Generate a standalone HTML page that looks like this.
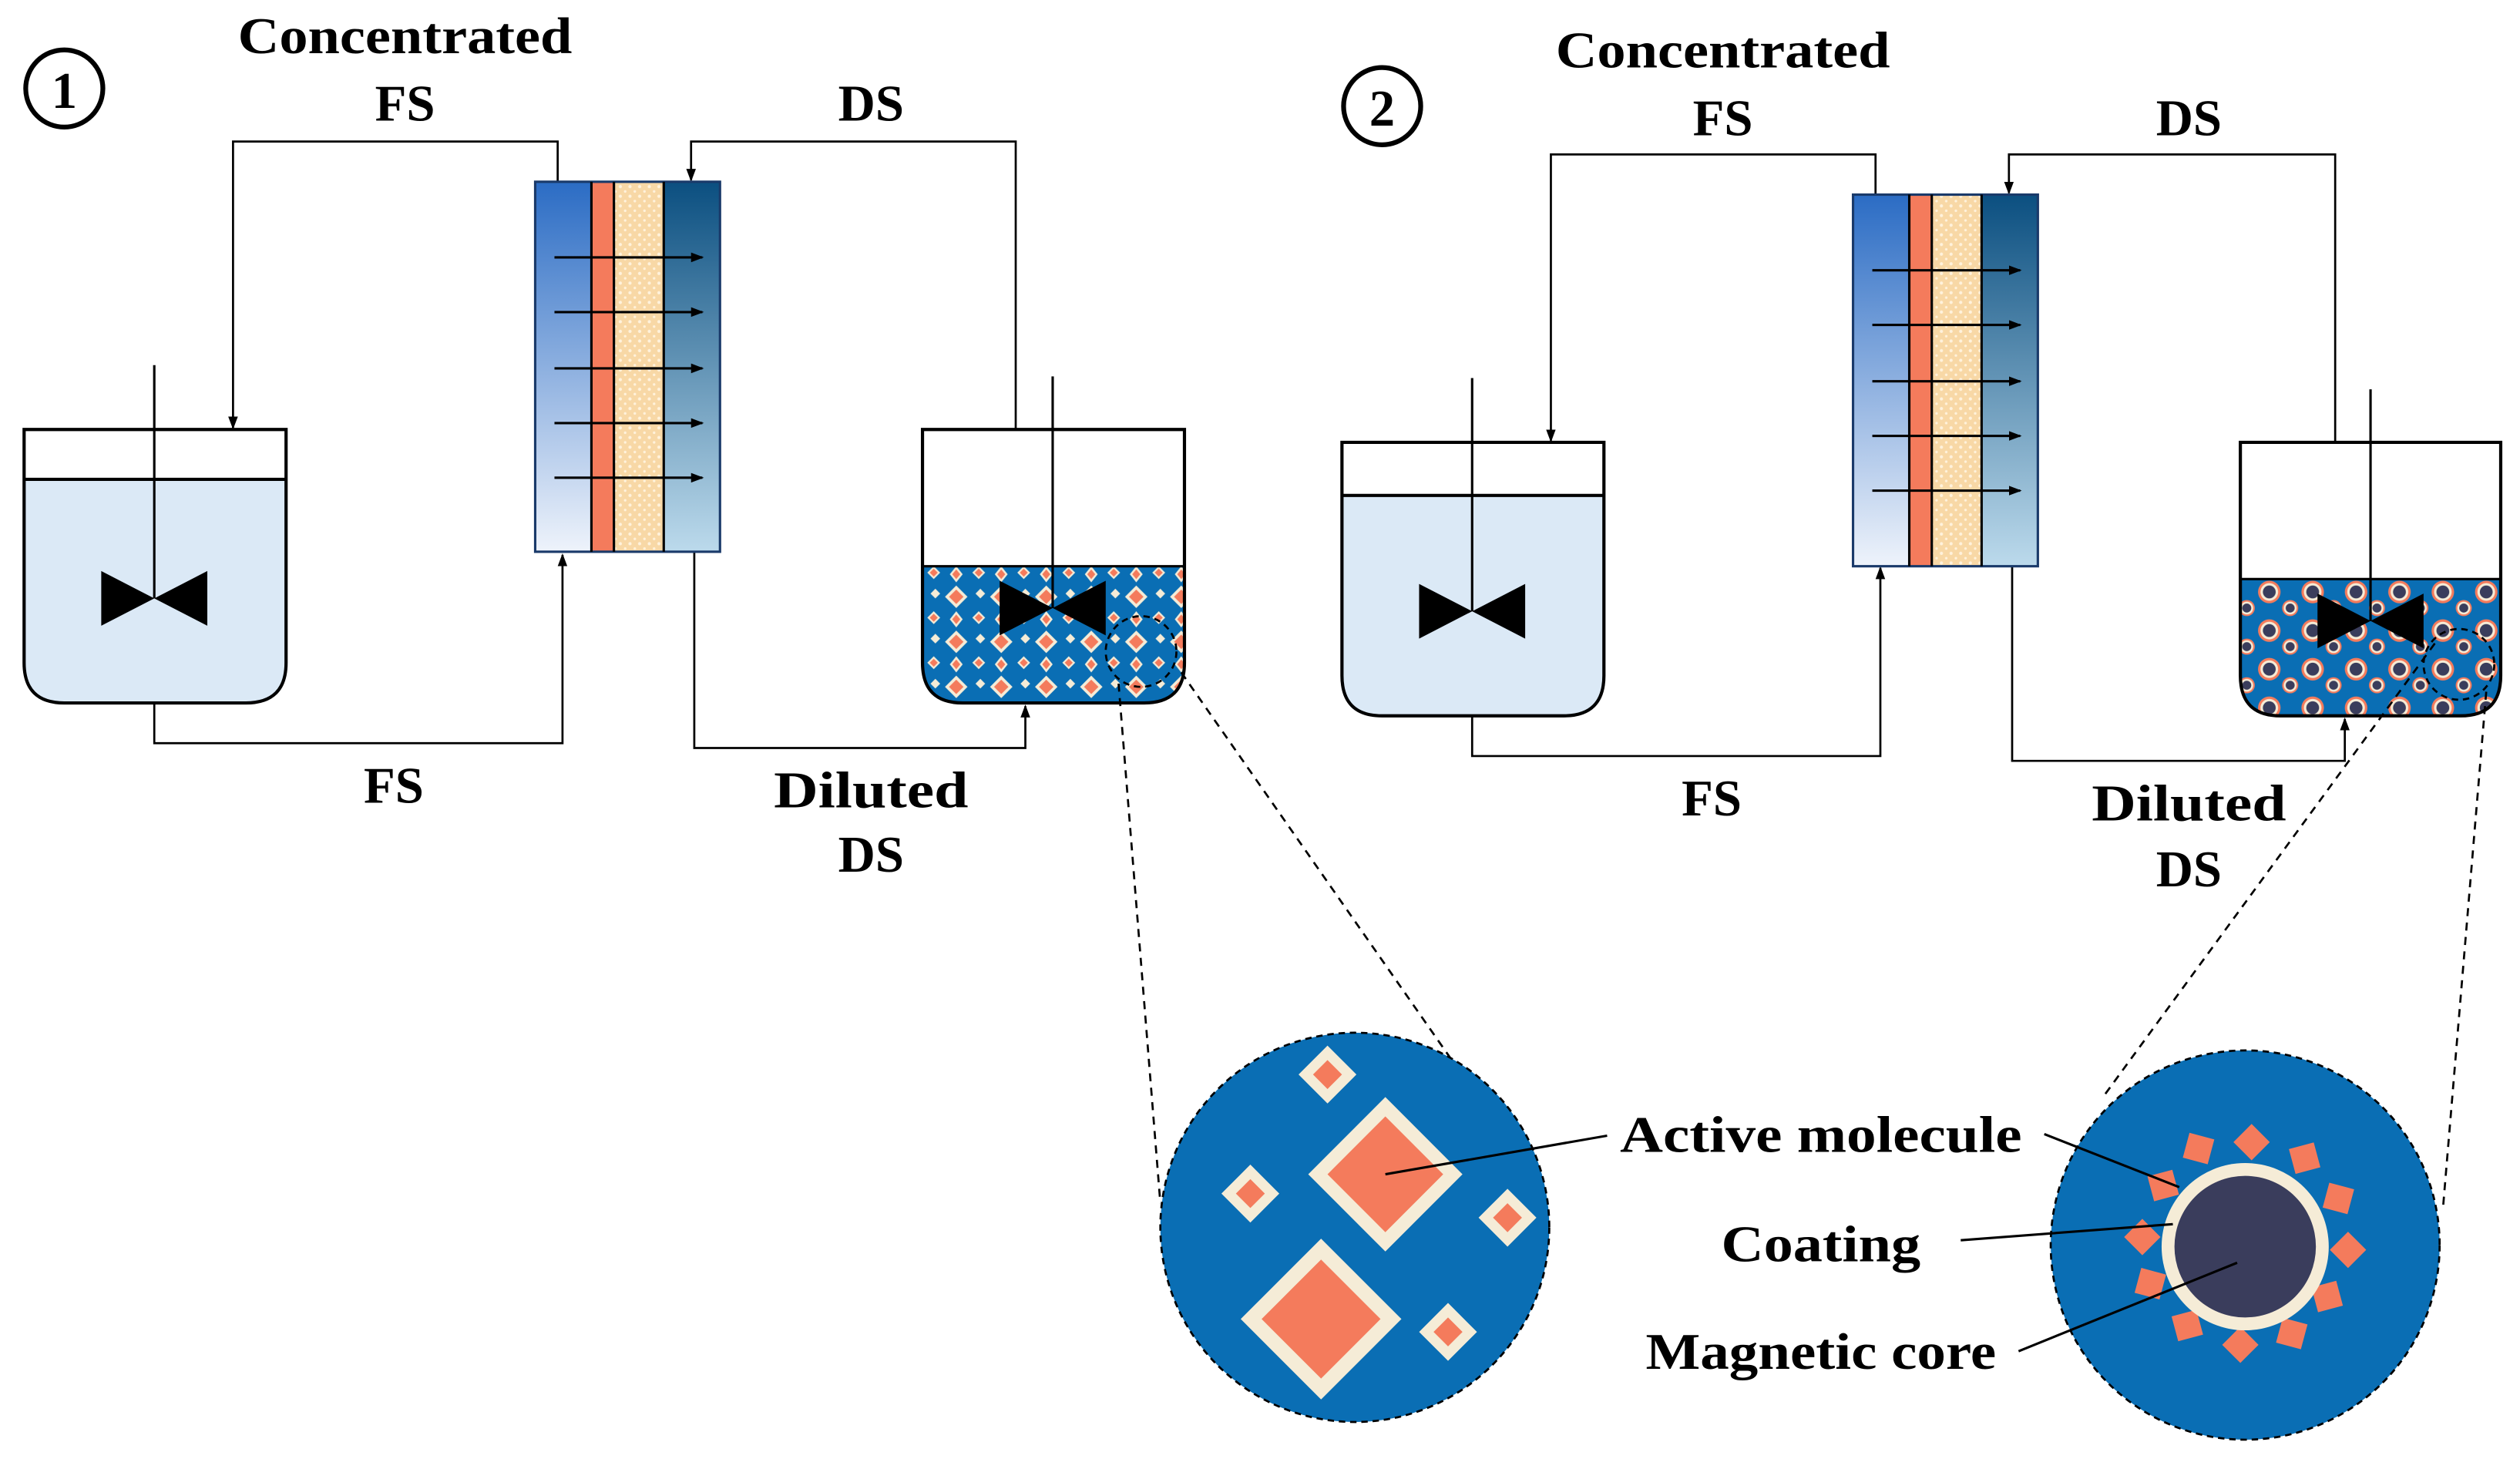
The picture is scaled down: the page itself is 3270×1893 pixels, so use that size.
<!DOCTYPE html>
<html><head><meta charset="utf-8"><style>
html,body{margin:0;padding:0;background:#fff;}
svg{display:block;}
text{font-family:"Liberation Serif",serif;font-weight:bold;fill:#000;}
</style></head><body>
<svg width="3270" height="1893" viewBox="0 0 1568 907" preserveAspectRatio="none" xmlns="http://www.w3.org/2000/svg">
<defs>
<linearGradient id="gL" x1="0" y1="0" x2="0" y2="1"><stop offset="0" stop-color="#2b6cc4"/><stop offset="1" stop-color="#eef3fb"/></linearGradient>
<linearGradient id="gR" x1="0" y1="0" x2="0" y2="1"><stop offset="0" stop-color="#0b4f80"/><stop offset="1" stop-color="#bcdaec"/></linearGradient>
<pattern id="dots" width="6" height="6" patternUnits="userSpaceOnUse"><rect width="6" height="6" fill="#f8d8a6"/><circle cx="2" cy="2" r="1" fill="#fff2dc"/><circle cx="5" cy="5" r="0.8" fill="#fff2dc"/></pattern>
<pattern id="dia" width="28" height="28" patternUnits="userSpaceOnUse">
<rect width="28" height="28" fill="#0a6eb4"/>
<path d="M7,0 L14,7 L7,14 L0,7Z" fill="#f5ecd7"/><path d="M7,2.5 L11.5,7 L7,11.5 L2.5,7Z" fill="#f47b5c"/>
<path d="M21,16 L25,20 L21,24 L17,20Z" fill="#f5ecd7"/><path d="M21,17.5 L23.5,20 L21,22.5 L18.5,20Z" fill="#f47b5c"/>
<path d="M22,2 L25,5 L22,8 L19,5Z" fill="#f5ecd7"/>
<path d="M7,16 L11,21 L7,26 L3,21Z" fill="#f5ecd7"/><path d="M7,18 L9.5,21 L7,24 L4.5,21Z" fill="#f47b5c"/>
</pattern>
<pattern id="mag" width="27" height="24" patternUnits="userSpaceOnUse">
<rect width="27" height="24" fill="#0a6eb4"/>
<circle cx="8" cy="8" r="7" fill="#f47b5c"/><circle cx="8" cy="8" r="5.5" fill="#f5ecd7"/><circle cx="8" cy="8" r="4" fill="#3a3d5c"/>
<circle cx="21" cy="18" r="5" fill="#f47b5c"/><circle cx="21" cy="18" r="4" fill="#f5ecd7"/><circle cx="21" cy="18" r="2.8" fill="#3a3d5c"/>
</pattern>
<marker id="ar" markerWidth="8" markerHeight="8" refX="7" refY="4" orient="auto" markerUnits="userSpaceOnUse"><path d="M0,1 L8,4 L0,7Z" fill="#000"/></marker>
</defs>

<g id="p1">
<circle cx="40" cy="55" r="24" fill="none" stroke="#000" stroke-width="3"/>
<text x="40" y="67" font-size="32" text-anchor="middle">1</text>
<text x="252" y="33" font-size="32" text-anchor="middle" textLength="208" lengthAdjust="spacingAndGlyphs">Concentrated</text>
<text x="252" y="75" font-size="32" text-anchor="middle">FS</text>
<text x="542" y="75" font-size="32" text-anchor="middle">DS</text>
<text x="245" y="499" font-size="32" text-anchor="middle">FS</text>
<text x="542" y="502" font-size="32" text-anchor="middle" textLength="121" lengthAdjust="spacingAndGlyphs">Diluted</text>
<text x="542" y="542" font-size="32" text-anchor="middle">DS</text>

<g fill="none" stroke="#000" stroke-width="1.3">
<polyline points="347,113 347,88 145,88 145,266" marker-end="url(#ar)"/>
<polyline points="632,267 632,88 430,88 430,112" marker-end="url(#ar)"/>
<polyline points="96,437 96,462 350,462 350,345" marker-end="url(#ar)"/>
<polyline points="432,343 432,465 638,465 638,439" marker-end="url(#ar)"/>
</g>

<path d="M15,298 H178 V412 Q178,437 153,437 H40 Q15,437 15,412Z" fill="#dbe9f6"/>
<path d="M15,267 H178 V412 Q178,437 153,437 H40 Q15,437 15,412Z" fill="none" stroke="#000" stroke-width="2"/>
<line x1="15" y1="298" x2="178" y2="298" stroke="#000" stroke-width="2"/>
<line x1="96" y1="227" x2="96" y2="372" stroke="#000" stroke-width="1.5"/>
<path d="M63,355 L129,389 L129,355 L63,389Z" fill="#000"/>

<rect x="333" y="113" width="35" height="230" fill="url(#gL)"/>
<rect x="368" y="113" width="14" height="230" fill="#f47b5c"/>
<rect x="382" y="113" width="31" height="230" fill="url(#dots)"/>
<rect x="413" y="113" width="35" height="230" fill="url(#gR)"/>
<rect x="333" y="113" width="115" height="230" fill="none" stroke="#1a3a6a" stroke-width="1.5"/>
<line x1="368" y1="113" x2="368" y2="343" stroke="#000" stroke-width="1.5"/>
<line x1="382" y1="113" x2="382" y2="343" stroke="#000" stroke-width="1.5"/>
<line x1="413" y1="113" x2="413" y2="343" stroke="#000" stroke-width="1.5"/>
<g stroke="#000" stroke-width="1.5" marker-end="url(#ar)">
<line x1="345" y1="160" x2="437" y2="160"/><line x1="345" y1="194" x2="437" y2="194"/>
<line x1="345" y1="229" x2="437" y2="229"/><line x1="345" y1="263" x2="437" y2="263"/>
<line x1="345" y1="297" x2="437" y2="297"/>
</g>

<path d="M574,352 H737 V412 Q737,437 712,437 H599 Q574,437 574,412Z" fill="url(#dia)"/>
<path d="M574,267 H737 V412 Q737,437 712,437 H599 Q574,437 574,412Z" fill="none" stroke="#000" stroke-width="2"/>
<line x1="574" y1="352" x2="737" y2="352" stroke="#000" stroke-width="1.5"/>
<line x1="655" y1="234" x2="655" y2="378" stroke="#000" stroke-width="1.5"/>
<path d="M622,361 L688,395 L688,361 L622,395Z" fill="#000"/>
<circle cx="710" cy="405" r="22" fill="none" stroke="#000" stroke-width="1.3" stroke-dasharray="4,3"/>

<g stroke="#000" stroke-width="1.3" stroke-dasharray="5,4" fill="none">
<line x1="696" y1="425" x2="722" y2="748"/>
<line x1="735" y1="418" x2="918" y2="680"/>
</g>
<circle cx="843" cy="763" r="121" fill="#0a6eb4" stroke="#000" stroke-width="1.3" stroke-dasharray="4,3"/>
<g>
<path d="M862,682 L910,730 L862,778 L814,730Z" fill="#f5ecd7"/><path d="M862,694 L898,730 L862,766 L826,730Z" fill="#f47b5c"/>
<path d="M822,770 L872,820 L822,870 L772,820Z" fill="#f5ecd7"/><path d="M822,783 L859,820 L822,857 L785,820Z" fill="#f47b5c"/>
<path d="M826,650 L844,668 L826,686 L808,668Z" fill="#f5ecd7"/><path d="M826,659 L835,668 L826,677 L817,668Z" fill="#f47b5c"/>
<path d="M778,724 L796,742 L778,760 L760,742Z" fill="#f5ecd7"/><path d="M778,733 L787,742 L778,751 L769,742Z" fill="#f47b5c"/>
<path d="M938,739 L956,757 L938,775 L920,757Z" fill="#f5ecd7"/><path d="M938,748 L947,757 L938,766 L929,757Z" fill="#f47b5c"/>
<path d="M901,810 L919,828 L901,846 L883,828Z" fill="#f5ecd7"/><path d="M901,819 L910,828 L901,837 L892,828Z" fill="#f47b5c"/>
</g>
<line x1="862" y1="730" x2="1000" y2="706" stroke="#000" stroke-width="1.5"/>
</g>

<circle cx="860" cy="66" r="24" fill="none" stroke="#000" stroke-width="3"/>
<text x="860" y="78" font-size="32" text-anchor="middle">2</text>
<text x="1072" y="42" font-size="32" text-anchor="middle" textLength="208" lengthAdjust="spacingAndGlyphs">Concentrated</text>
<text x="1072" y="84" font-size="32" text-anchor="middle">FS</text>
<text x="1362" y="84" font-size="32" text-anchor="middle">DS</text>
<text x="1065" y="507" font-size="32" text-anchor="middle">FS</text>
<text x="1362" y="510" font-size="32" text-anchor="middle" textLength="121" lengthAdjust="spacingAndGlyphs">Diluted</text>
<text x="1362" y="551" font-size="32" text-anchor="middle">DS</text>

<g fill="none" stroke="#000" stroke-width="1.3">
<polyline points="1167,121 1167,96 965,96 965,274" marker-end="url(#ar)"/>
<polyline points="1453,275 1453,96 1250,96 1250,120" marker-end="url(#ar)"/>
<polyline points="916,445 916,470 1170,470 1170,353" marker-end="url(#ar)"/>
<polyline points="1252,352 1252,473 1459,473 1459,447" marker-end="url(#ar)"/>
</g>

<path d="M835,308 H998 V420 Q998,445 973,445 H860 Q835,445 835,420Z" fill="#dbe9f6"/>
<path d="M835,275 H998 V420 Q998,445 973,445 H860 Q835,445 835,420Z" fill="none" stroke="#000" stroke-width="2"/>
<line x1="835" y1="308" x2="998" y2="308" stroke="#000" stroke-width="2"/>
<line x1="916" y1="235" x2="916" y2="380" stroke="#000" stroke-width="1.5"/>
<path d="M883,363 L949,397 L949,363 L883,397Z" fill="#000"/>

<rect x="1153" y="121" width="35" height="231" fill="url(#gL)"/>
<rect x="1188" y="121" width="14" height="231" fill="#f47b5c"/>
<rect x="1202" y="121" width="31" height="231" fill="url(#dots)"/>
<rect x="1233" y="121" width="35" height="231" fill="url(#gR)"/>
<rect x="1153" y="121" width="115" height="231" fill="none" stroke="#1a3a6a" stroke-width="1.5"/>
<line x1="1188" y1="121" x2="1188" y2="352" stroke="#000" stroke-width="1.5"/>
<line x1="1202" y1="121" x2="1202" y2="352" stroke="#000" stroke-width="1.5"/>
<line x1="1233" y1="121" x2="1233" y2="352" stroke="#000" stroke-width="1.5"/>
<g stroke="#000" stroke-width="1.5" marker-end="url(#ar)">
<line x1="1165" y1="168" x2="1257" y2="168"/><line x1="1165" y1="202" x2="1257" y2="202"/>
<line x1="1165" y1="237" x2="1257" y2="237"/><line x1="1165" y1="271" x2="1257" y2="271"/>
<line x1="1165" y1="305" x2="1257" y2="305"/>
</g>

<path d="M1394,360 H1556 V420 Q1556,445 1531,445 H1419 Q1394,445 1394,420Z" fill="url(#mag)"/>
<path d="M1394,275 H1556 V420 Q1556,445 1531,445 H1419 Q1394,445 1394,420Z" fill="none" stroke="#000" stroke-width="2"/>
<line x1="1394" y1="360" x2="1556" y2="360" stroke="#000" stroke-width="1.5"/>
<line x1="1475" y1="242" x2="1475" y2="386" stroke="#000" stroke-width="1.5"/>
<path d="M1442,369 L1508,403 L1508,369 L1442,403Z" fill="#000"/>
<circle cx="1530" cy="413" r="22" fill="none" stroke="#000" stroke-width="1.3" stroke-dasharray="4,3"/>

<g stroke="#000" stroke-width="1.3" stroke-dasharray="5,4" fill="none">
<line x1="1515" y1="400" x2="1310" y2="680"/>
<line x1="1547" y1="430" x2="1520" y2="752"/>
</g>
<circle cx="1397" cy="774" r="121" fill="#0a6eb4" stroke="#000" stroke-width="1.3" stroke-dasharray="4,3"/>
<g fill="#f47b5c">
<rect x="-8" y="-8" width="16" height="16" transform="translate(1401,710) rotate(45)"/>
<rect x="-8" y="-8" width="16" height="16" transform="translate(1368,714) rotate(15)"/>
<rect x="-8" y="-8" width="16" height="16" transform="translate(1434,720) rotate(-15)"/>
<rect x="-8" y="-8" width="16" height="16" transform="translate(1346,737) rotate(-15)"/>
<rect x="-8" y="-8" width="16" height="16" transform="translate(1455,745) rotate(15)"/>
<rect x="-8" y="-8" width="16" height="16" transform="translate(1333,769) rotate(45)"/>
<rect x="-8" y="-8" width="16" height="16" transform="translate(1461,777) rotate(45)"/>
<rect x="-8" y="-8" width="16" height="16" transform="translate(1338,798) rotate(15)"/>
<rect x="-8" y="-8" width="16" height="16" transform="translate(1448,806) rotate(-15)"/>
<rect x="-8" y="-8" width="16" height="16" transform="translate(1361,824) rotate(-15)"/>
<rect x="-8" y="-8" width="16" height="16" transform="translate(1426,829) rotate(15)"/>
<rect x="-8" y="-8" width="16" height="16" transform="translate(1394,836) rotate(45)"/>
</g>
<circle cx="1397" cy="775" r="52" fill="#f5ecd7"/>
<circle cx="1397" cy="775" r="44" fill="#3a3d5c"/>
<g stroke="#000" stroke-width="1.5">
<line x1="1272" y1="705" x2="1356" y2="738"/>
<line x1="1220" y1="771" x2="1352" y2="761"/>
<line x1="1256" y1="840" x2="1392" y2="785"/>
</g>

<text x="1133" y="716" font-size="32" text-anchor="middle" textLength="250" lengthAdjust="spacingAndGlyphs">Active molecule</text>
<text x="1133" y="784" font-size="32" text-anchor="middle" textLength="124" lengthAdjust="spacingAndGlyphs">Coating</text>
<text x="1133" y="851" font-size="32" text-anchor="middle" textLength="218" lengthAdjust="spacingAndGlyphs">Magnetic core</text>
</svg>
</body></html>
